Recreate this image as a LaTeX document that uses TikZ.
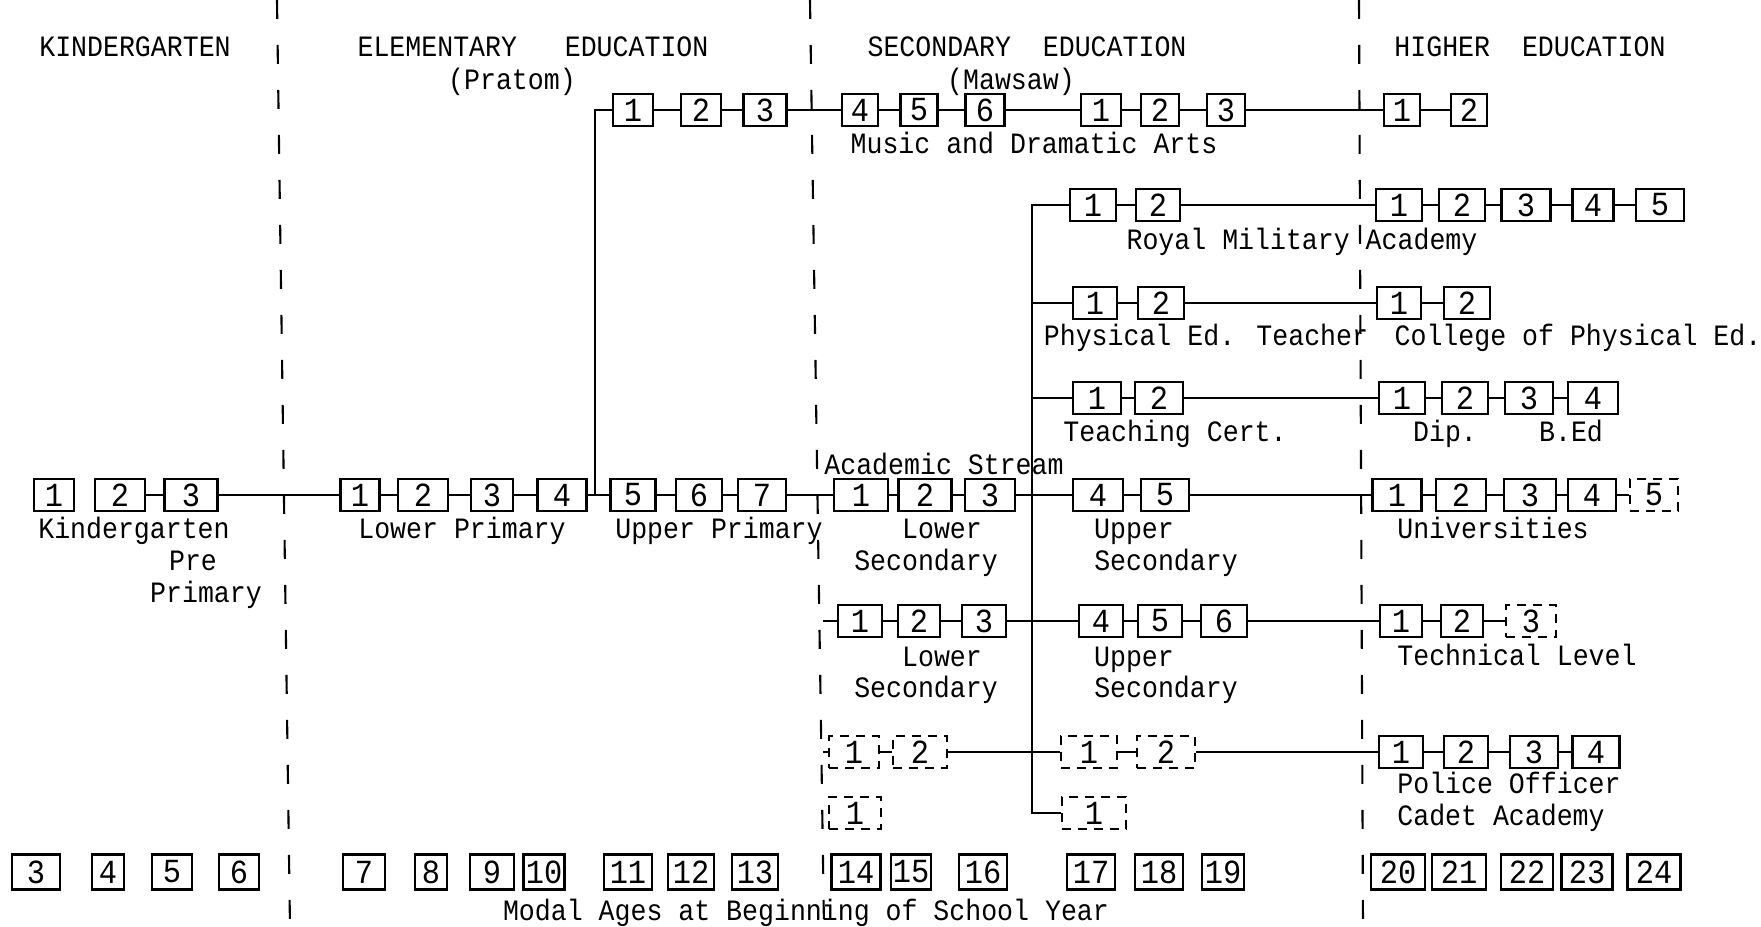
\documentclass[tikz,border=0pt]{standalone}
\usepackage{fontspec}
\setmainfont{Liberation Mono}[FakeStretch=0.9]
\begin{document}
\begin{tikzpicture}[x=0.1mm,y=-0.1mm,font=\fontsize{8.4pt}{10pt}\selectfont]
  \tikzset{
    yr/.style={draw=black,line width=0.8pt,minimum width=4.6mm,
      minimum height=3.2mm,inner sep=0pt,font=\fontsize{9.6pt}{10pt}\selectfont},
    wd/.style={minimum width=#1*0.1mm},
    opt/.style={yr,dash pattern=on 0.9mm off 0.7mm},
    age/.style={yr,minimum height=3.5mm},
    lbl/.style={inner sep=0pt,text height=2.6mm,text depth=0.5mm},
    link/.style={line width=0.7pt,draw=black},
    border/.style={line width=0.6pt,dash pattern=on 1.9mm off 2.6mm}
  }
  \useasboundingbox (0,0) rectangle (1761,927);

  % level borders
  \draw[border] (277,0) -- (290,927);
  \draw[border] (810,0) -- (824,927);
  \draw[border] (1359,0) -- (1363,927);

  % headings
  \node[lbl] (hkg) at (135,46) {KINDERGARTEN};
  \node[lbl] (hel) at (533,46) {ELEMENTARY~~~EDUCATION};
  \node[lbl] (hpr) at (512,79) {(Pratom)};
  \node[lbl] (hse) at (1027,46) {SECONDARY~~EDUCATION};
  \node[lbl] (hmw) at (1011,79) {(Mawsaw)};
  \node[lbl] (hhi) at (1530,46) {HIGHER~~EDUCATION};

  % music and dramatic arts
  \node[yr,wd=40] (mu1) at (633,110) {1};
  \node[yr,wd=40] (mu2) at (701,110) {2};
  \node[yr,wd=43] (mu3) at (765,110) {3};
  \node[yr,wd=36] (mu4) at (860,110) {4};
  \node[yr,wd=37] (mu5) at (919,110) {5};
  \node[yr,wd=39] (mu6) at (985,110) {6};
  \node[yr,wd=40] (ma1) at (1101,110) {1};
  \node[yr,wd=38] (ma2) at (1160,110) {2};
  \node[yr,wd=38] (ma3) at (1226,110) {3};
  \node[yr,wd=36] (mh1) at (1402,110) {1};
  \node[yr,wd=36] (mh2) at (1469,110) {2};
  \draw[link] (mu1) -- (mu2) -- (mu3) -- (mu4) -- (mu5) -- (mu6)
    -- (ma1) -- (ma2) -- (ma3) -- (mh1) -- (mh2);
  \draw[link] (mu1.west) -| (595,495);
  \node[lbl] (mus) at (1034,143) {Music and Dramatic Arts};

  % royal military academy
  \node[yr,wd=46] (ro1) at (1093,205) {1};
  \node[yr,wd=44] (ro2) at (1158,205) {2};
  \node[yr,wd=46] (rh1) at (1399,205) {1};
  \node[yr,wd=46] (rh2) at (1462,205) {2};
  \node[yr,wd=49] (rh3) at (1526,205) {3};
  \node[yr,wd=41] (rh4) at (1593,205) {4};
  \node[yr,wd=48] (rh5) at (1660,205) {5};
  \draw[link] (ro1) -- (ro2) -- (rh1) -- (rh2) -- (rh3) -- (rh4) -- (rh5);
  \node[lbl] (rma) at (1302,239) {Royal Military Academy};

  % physical education
  \node[yr,wd=44] (pe1) at (1095,303) {1};
  \node[yr,wd=46] (pe2) at (1161,303) {2};
  \node[yr,wd=44] (ph1) at (1399,303) {1};
  \node[yr,wd=46] (ph2) at (1467,303) {2};
  \draw[link] (pe1) -- (pe2) -- (ph1) -- (ph2);
  \node[lbl] (pet) at (1206,335) {Physical Ed. Teacher};
  \node[lbl] (cpe) at (1578,335) {College of Physical Ed.};

  % teaching certificate
  \node[yr,wd=48] (tc1) at (1097,398) {1};
  \node[yr,wd=48] (tc2) at (1159,398) {2};
  \node[yr,wd=46] (th1) at (1402,398) {1};
  \node[yr,wd=46] (th2) at (1465,398) {2};
  \node[yr,wd=48] (th3) at (1529,398) {3};
  \node[yr,wd=50] (th4) at (1593,398) {4};
  \draw[link] (tc1) -- (tc2) -- (th1) -- (th2) -- (th3) -- (th4);
  \node[lbl] (tce) at (1175,431) {Teaching Cert.};
  \node[lbl] (dip) at (1445,431) {Dip.};
  \node[lbl] (bed) at (1571,431) {B.Ed};

  % academic stream
  \node[lbl] (acs) at (944,464) {Academic Stream};
  \node[yr,wd=40] (kg1) at (54,495) {1};
  \node[yr,wd=50] (kg2) at (120,495) {2};
  \node[yr,wd=53] (kg3) at (191,495) {3};
  \node[yr,wd=39] (lp1) at (360,495) {1};
  \node[yr,wd=50] (lp2) at (423,495) {2};
  \node[yr,wd=42] (lp3) at (492,495) {3};
  \node[yr,wd=49] (lp4) at (562,495) {4};
  \node[yr,wd=45] (up5) at (633,495) {5};
  \node[yr,wd=46] (up6) at (699,495) {6};
  \node[yr,wd=48] (up7) at (762,495) {7};
  \node[yr,wd=54] (ls1) at (861,495) {1};
  \node[yr,wd=53] (ls2) at (925,495) {2};
  \node[yr,wd=50] (ls3) at (990,495) {3};
  \node[yr,wd=50] (us4) at (1098,495) {4};
  \node[yr,wd=48] (us5) at (1165,495) {5};
  \node[yr,wd=49] (un1) at (1397,495) {1};
  \node[yr,wd=50] (un2) at (1461,495) {2};
  \node[yr,wd=52] (un3) at (1530,495) {3};
  \node[yr,wd=48] (un4) at (1592,495) {4};
  \node[opt,wd=48] (un5) at (1654,495) {5};
  \draw[link] (kg2) -- (kg3) -- (lp1) -- (lp2) -- (lp3) -- (lp4) -- (up5)
    -- (up6) -- (up7) -- (ls1) -- (ls2) -- (ls3) -- (us4) -- (us5)
    -- (un1) -- (un2) -- (un3) -- (un4) -- (un5);
  \node[lbl] (kgl) at (134,528) {Kindergarten};
  \node[lbl] (pre) at (193,560) {Pre};
  \node[lbl] (prm) at (206,592) {Primary};
  \node[lbl] (lpl) at (462,528) {Lower Primary};
  \node[lbl] (upl) at (719,528) {Upper Primary};
  \node[lbl] (lsa) at (942,528) {Lower};
  \node[lbl] (lsb) at (926,560) {Secondary};
  \node[lbl] (usa) at (1134,528) {Upper};
  \node[lbl] (usb) at (1166,560) {Secondary};
  \node[lbl] (unl) at (1493,528) {Universities};

  % technical level
  \coordinate (techin) at (823,621);
  \node[yr,wd=44] (vl1) at (860,621) {1};
  \node[yr,wd=42] (vl2) at (919,621) {2};
  \node[yr,wd=44] (vl3) at (984,621) {3};
  \node[yr,wd=44] (vu4) at (1101,621) {4};
  \node[yr,wd=44] (vu5) at (1160,621) {5};
  \node[yr,wd=46] (vu6) at (1224,621) {6};
  \node[yr,wd=42] (vh1) at (1401,621) {1};
  \node[yr,wd=42] (vh2) at (1462,621) {2};
  \node[opt,wd=50] (vh3) at (1531,621) {3};
  \draw[link] (techin) -- (vl1) -- (vl2) -- (vl3) -- (vu4) -- (vu5) -- (vu6)
    -- (vh1) -- (vh2) -- (vh3);
  \node[lbl] (tla) at (942,656) {Lower};
  \node[lbl] (tlb) at (926,687) {Secondary};
  \node[lbl] (tua) at (1134,656) {Upper};
  \node[lbl] (tub) at (1166,687) {Secondary};
  \node[lbl] (tel) at (1517,655) {Technical Level};

  % police cadets
  \coordinate (polin) at (823,752);
  \node[opt,wd=50] (pl1) at (854,752) {1};
  \node[opt,wd=54] (pl2) at (920,752) {2};
  \node[opt,wd=56] (pu1) at (1089,752) {1};
  \node[opt,wd=58] (pu2) at (1166,752) {2};
  \node[yr,wd=44] (po1) at (1401,752) {1};
  \node[yr,wd=44] (po2) at (1466,752) {2};
  \node[yr,wd=48] (po3) at (1534,752) {3};
  \node[yr,wd=47] (po4) at (1596,752) {4};
  \draw[link] (polin) -- (pl1) -- (pl2) -- (pu1) -- (pu2) -- (po1) -- (po2)
    -- (po3) -- (po4);
  \node[lbl] (pol) at (1509,783) {Police Officer};
  \node[lbl] (cad) at (1501,815) {Cadet Academy};

  % single years
  \node[opt,wd=52] (sl1) at (855,813) {1};
  \node[opt,wd=64] (su1) at (1094,813) {1};

  % branch line
  \coordinate (fork) at (1032,813);
  \draw[link] (ro1.west) -| (fork) -- (su1.west);
  \draw[link] (pe1.west) -- (pe1.west -| fork);
  \draw[link] (tc1.west) -- (tc1.west -| fork);

  % modal ages
  \node[age,wd=48] (ag3) at (36,872) {3};
  \node[age,wd=32] (ag4) at (108,872) {4};
  \node[age,wd=40] (ag5) at (172,872) {5};
  \node[age,wd=40] (ag6) at (239,872) {6};
  \node[age,wd=42] (ag7) at (364,872) {7};
  \node[age,wd=32] (ag8) at (431,872) {8};
  \node[age,wd=44] (ag9) at (492,872) {9};
  \node[age,wd=41] (ag10) at (544,872) {10};
  \node[age,wd=48] (ag11) at (628,872) {11};
  \node[age,wd=46] (ag12) at (691,872) {12};
  \node[age,wd=46] (ag13) at (755,872) {13};
  \node[age,wd=49] (ag14) at (856,872) {14};
  \node[age,wd=40] (ag15) at (911,872) {15};
  \node[age,wd=48] (ag16) at (983,872) {16};
  \node[age,wd=48] (ag17) at (1091,872) {17};
  \node[age,wd=48] (ag18) at (1159,872) {18};
  \node[age,wd=42] (ag19) at (1223,872) {19};
  \node[age,wd=54] (ag20) at (1398,872) {20};
  \node[age,wd=54] (ag21) at (1459,872) {21};
  \node[age,wd=52] (ag22) at (1527,872) {22};
  \node[age,wd=51] (ag23) at (1587,872) {23};
  \node[age,wd=53] (ag24) at (1654,872) {24};
  \node[lbl] (mod) at (806,910) {Modal Ages at Beginning of School Year};
\end{tikzpicture}
\end{document}
